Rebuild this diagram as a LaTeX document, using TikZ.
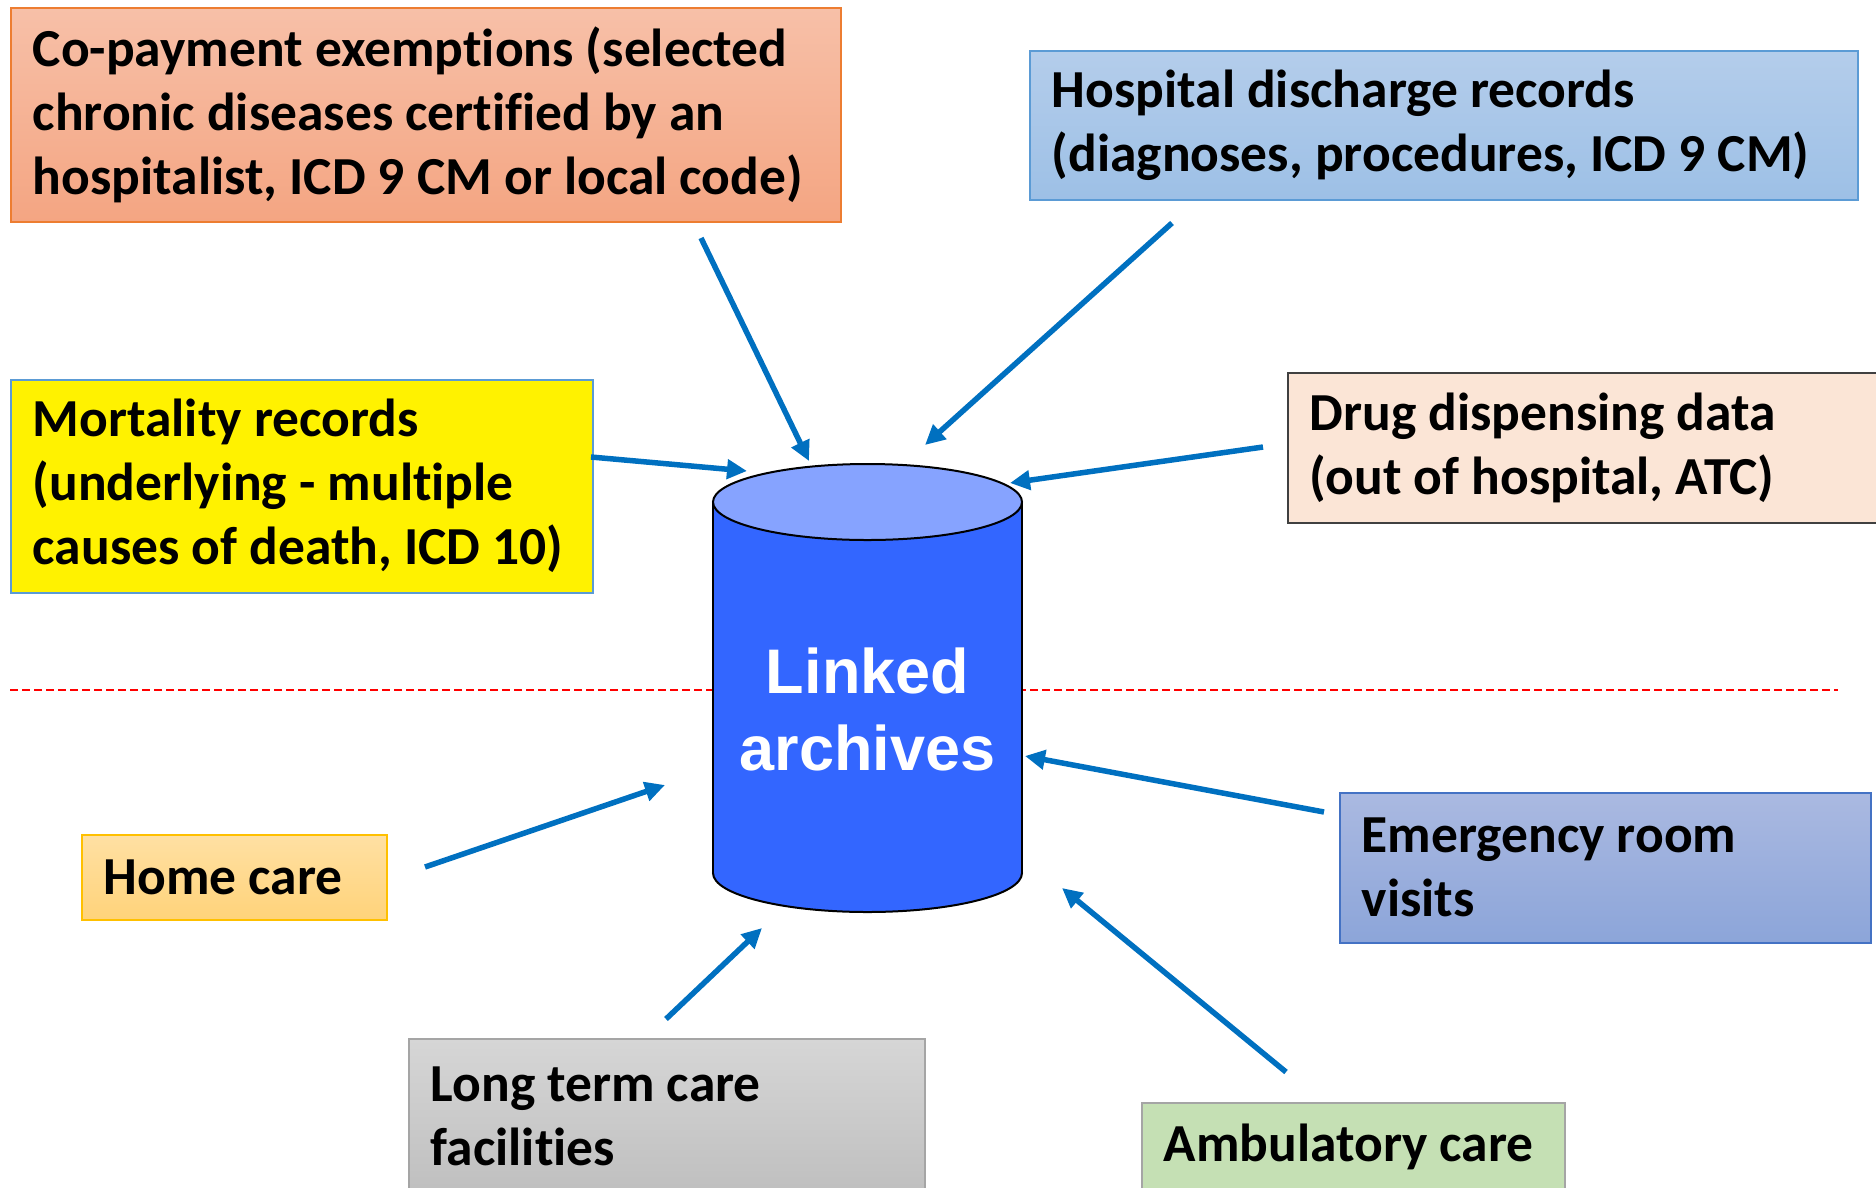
\documentclass[tikz,border=0pt]{standalone}
\usepackage{fontspec}
\setmainfont{Carlito}[Ligatures={NoCommon}]
\newfontfamily\arialfont{Liberation Sans}
\usetikzlibrary{calc}
\usetikzlibrary{positioning}
\usetikzlibrary{arrows.meta}
\definecolor{arrowblue}{HTML}{0070C0}
\definecolor{dbbody}{HTML}{3366FF}
\definecolor{dbtop}{HTML}{86A3FF}

\begin{document}
\begin{tikzpicture}[x=1pt, y=-1pt, >={Triangle[length=20pt,width=19pt]}, font=\fontsize{53.5}{64}\selectfont\bfseries]
    \tikzstyle{src}=[draw, rectangle, anchor=north west, align=flush left, inner xsep=22pt, inner ysep=0pt, line width=1.5pt]
    \tikzstyle{feed}=[->, draw=arrowblue, line width=5.5pt]
    \useasboundingbox (0,0) rectangle (1876,1187);

    % divider
    \draw[red, line width=2.5pt, dash pattern=on 8pt off 4pt] (10,690) -- (1838,690);

    % linked archives cylinder
    \fill[dbbody, draw=black, line width=2pt] (867.5,873) ellipse [x radius=154.5, y radius=39];
    \fill[dbbody] (713,502) rectangle (1022,873);
    \draw[line width=2pt] (713,502) -- (713,873) (1022,502) -- (1022,873);
    \filldraw[fill=dbtop, line width=2pt] (867.5,502) ellipse [x radius=154.5, y radius=38];
    \node[font=\arialfont\bfseries\fontsize{63}{77}\selectfont, text=white, align=center] (db) at (867.5,709) {Linked\\archives};

    \node[src, draw={rgb,255:red,237;green,125;blue,49}, top color={rgb,255:red,247;green,192;blue,168}, bottom color={rgb,255:red,244;green,165;blue,130},
        minimum width=830pt, text width=786pt, minimum height=214pt] (copay) at (10,7)
        {Co-payment exemptions (selected\\chronic diseases certified by an\\hospitalist, ICD 9 CM or local code)};
    \node[src, draw={rgb,255:red,91;green,155;blue,213}, top color={rgb,255:red,180;green,205;blue,235}, bottom color={rgb,255:red,157;green,192;blue,230},
        minimum width=828pt, text width=784pt, minimum height=149pt] (hosp) at (1029,50)
        {Hospital discharge records\\(diagnoses, procedures, ICD 9 CM)};
    \node[src, draw={rgb,255:red,91;green,155;blue,213}, fill=yellow,
        minimum width=582pt, text width=538pt, minimum height=213pt] (mort) at (10,379)
        {Mortality records\\(underlying - multiple\\causes of death, ICD 10)};
    \node[src, draw={rgb,255:red,64;green,64;blue,64}, fill={rgb,255:red,251;green,229;blue,214},
        minimum width=590pt, text width=546pt, minimum height=150pt] (drug) at (1287,372)
        {Drug dispensing data\\(out of hospital, ATC)};
    \node[src, draw={rgb,255:red,255;green,192;blue,0}, top color={rgb,255:red,255;green,224;blue,163}, bottom color={rgb,255:red,255;green,211;blue,122},
        minimum width=305pt, text width=261pt, minimum height=85pt] (home) at (81,834)
        {Home care};
    \node[src, draw={rgb,255:red,68;green,114;blue,196}, top color={rgb,255:red,170;green,185;blue,225}, bottom color={rgb,255:red,140;green,165;blue,217},
        minimum width=531pt, text width=487pt, minimum height=150pt] (emerg) at (1339,792)
        {Emergency room\\visits};
    \node[src, draw={rgb,255:red,165;green,165;blue,165}, top color={rgb,255:red,214;green,214;blue,214}, bottom color={rgb,255:red,191;green,191;blue,191},
        minimum width=516pt, text width=472pt, minimum height=155pt] (ltc) at (408,1038)
        {Long term care\\facilities};
    \node[src, draw={rgb,255:red,165;green,165;blue,165}, fill={rgb,255:red,197;green,224;blue,180},
        minimum width=423pt, text width=379pt, minimum height=88pt] (amb) at (1141,1102)
        {Ambulatory care};

    \coordinate (cp0) at (701,238);   \coordinate (cp1) at (809,461);
    \coordinate (hd0) at (1172,223);  \coordinate (hd1) at (925,445);
    \coordinate (mr0) at (591,457);   \coordinate (mr1) at (747,471);
    \coordinate (dd0) at (1263,447);  \coordinate (dd1) at (1010,483);
    \coordinate (hc0) at (425,867);   \coordinate (hc1) at (665,785);
    \coordinate (er0) at (1324,812);  \coordinate (er1) at (1025,756);
    \coordinate (lt0) at (666,1019);  \coordinate (lt1) at (762,928);
    \coordinate (ac0) at (1286,1072); \coordinate (ac1) at (1062,888);

    \draw[feed] (cp0) -- (cp1);
    \draw[feed] (hd0) -- (hd1);
    \draw[feed] (mr0) -- (mr1);
    \draw[feed] (dd0) -- (dd1);
    \draw[feed] (hc0) -- (hc1);
    \draw[feed] (er0) -- (er1);
    \draw[feed] (lt0) -- (lt1);
    \draw[feed] (ac0) -- (ac1);

\end{tikzpicture}
\end{document}
